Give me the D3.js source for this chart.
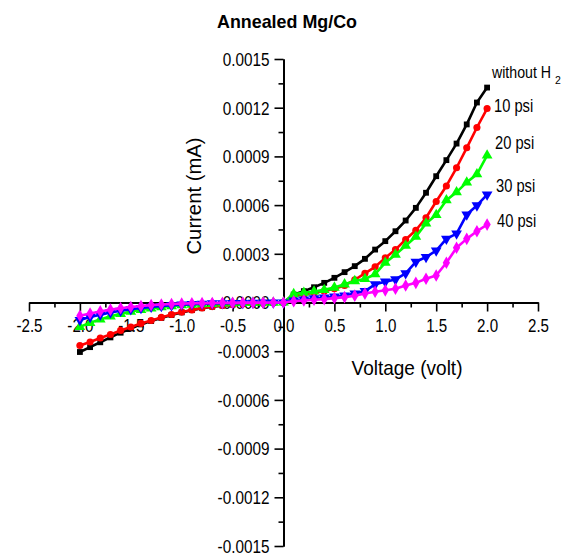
<!DOCTYPE html>
<html>
<head>
<meta charset="utf-8">
<script src="https://cdn.jsdelivr.net/npm/d3@7/dist/d3.min.js"></script>
<style>
  html, body { margin: 0; padding: 0; background: #fff; }
  svg { display: block; font-family: "Liberation Sans", Arial, sans-serif; }
</style>
</head>
<body>
<svg id="chart" width="570" height="559"></svg>
<script>
// ---------------- data ----------------
const voltage = [-2.0,-1.9,-1.8,-1.7,-1.6,-1.5,-1.4,-1.3,-1.2,-1.1,-1.0,-0.9,-0.8,-0.7,-0.6,-0.5,-0.4,-0.3,-0.2,-0.1,
                 0.0,0.1,0.2,0.3,0.4,0.5,0.6,0.7,0.8,0.9,1.0,1.1,1.2,1.3,1.4,1.5,1.6,1.7,1.8,1.9,2.0];

const withoutH2 = [-0.000305,-0.000275,-0.000245,-0.000215,-0.000186,-0.00016,-0.000135,-0.000114,-0.000095,-0.000077,-0.000061,-0.000047,-0.000035,-0.000026,-0.000019,-0.000013,-0.000009,-0.000006,-0.000004,-0.000002,
                   0,0.000049,0.00007,0.000094,0.000121,0.000152,0.000187,0.000224,0.000269,0.000326,0.000378,0.000439,0.000505,0.000583,0.000676,0.000778,0.000877,0.000979,0.001097,0.001232,0.001324];

const psi10 = [-0.000265,-0.000243,-0.000219,-0.000197,-0.000172,-0.000151,-0.000129,-0.000111,-0.000092,-0.000074,-0.000059,-0.000046,-0.000034,-0.000025,-0.000018,-0.000012,-0.000009,-0.000006,-0.000004,-0.000002,
               0,0.00004,0.00005,0.00006,0.00007,0.000085,0.000105,0.00014,0.00018,0.00022,0.000275,0.000326,0.000388,0.000445,0.000522,0.000622,0.000718,0.00083,0.000953,0.001078,0.001195];

const psi20 = [-0.00015,-0.000125,-0.000104,-0.000085,-0.00007,-0.000056,-0.000045,-0.000036,-0.000028,-0.000022,-0.000017,-0.000013,-0.00001,-0.000008,-0.000006,-0.000004,-0.000003,-0.000002,-0.000001,-0.0000005,
               0,0.000052,0.00006,0.000068,0.000078,0.000092,0.000112,0.000132,0.000145,0.000175,0.000245,0.000295,0.00035,0.000405,0.000487,0.00054,0.00063,0.00068,0.00074,0.00079,0.000906];

const psi30 = [-0.000108,-0.00009,-0.000075,-0.000062,-0.000051,-0.000042,-0.000034,-0.000027,-0.000022,-0.000017,-0.000013,-0.00001,-0.000008,-0.000006,-0.000005,-0.000004,-0.000003,-0.000002,-0.000001,-0.0000005,
               0,0.000012,0.000018,0.000025,0.00003,0.000036,0.000043,0.000055,0.00007,0.000112,0.000128,0.000142,0.00018,0.00025,0.00028,0.00032,0.000392,0.000424,0.000542,0.000598,0.000665];

const psi40 = [-0.000082,-0.000068,-0.000055,-0.000044,-0.000035,-0.000028,-0.000022,-0.000016,-0.000012,-0.000009,-0.000007,-0.000005,-0.000004,-0.000003,-0.000002,-0.000002,-0.000001,-0.000001,-0.0000005,-0.0000002,
               0,0.000008,0.000013,0.000017,0.000021,0.000027,0.000033,0.000042,0.000055,0.000066,0.000075,0.000085,0.000105,0.000121,0.000146,0.000166,0.000245,0.000337,0.000392,0.000439,0.00048];

const seriesNames = ["without H", "10 psi", "20 psi", "30 psi", "40 psi"];
const seriesSubscripts = ["2", "", "", "", ""];
const seriesValues = [withoutH2, psi10, psi20, psi30, psi40];
const seriesColors = ["#000000", "#ff0000", "#00ff00", "#0000ff", "#ff00ff"];

const xTickValues = [-2.5,-2.0,-1.5,-1.0,-0.5,0.0,0.5,1.0,1.5,2.0,2.5];
const xTickLabels = ["-2.5","-2.0","-1.5","-1.0","-0.5","0.0","0.5","1.0","1.5","2.0","2.5"];
const yTickValues = [-0.0015,-0.0012,-0.0009,-0.0006,-0.0003,0,0.0003,0.0006,0.0009,0.0012,0.0015];
const yTickLabels = ["-0.0015","-0.0012","-0.0009","-0.0006","-0.0003","0.0000","0.0003","0.0006","0.0009","0.0012","0.0015"];

const titleText = "Annealed Mg/Co";
const xTitle = "Voltage (volt)";
const yTitle = "Current (mA)";

// ---------------- drawing ----------------
const svg = d3.select("#chart");
const x = d3.scaleLinear().domain([-2.5, 2.5]).range([29, 538]);
const y = d3.scaleLinear().domain([-0.0015, 0.0015]).range([546, 59]);

function squeeze(sel, f) {
  sel.each(function() {
    const len = this.getComputedTextLength();
    d3.select(this).attr("textLength", len * f).attr("lengthAdjust", "spacingAndGlyphs");
  });
}

// x axis
const xMinor = d3.range(-2.5, 2.5001, 0.25).filter(v => Math.abs(Math.round(v*2) - v*2) > 1e-6);
const gxMinor = svg.append("g").attr("transform", `translate(0,${y(0)})`)
  .call(d3.axisBottom(x).tickValues(xMinor).tickSize(5).tickSizeOuter(0).tickFormat(""));
const gx = svg.append("g").attr("transform", `translate(0,${y(0)})`)
  .call(d3.axisBottom(x).tickValues(xTickValues).tickSize(9).tickSizeOuter(0).tickPadding(8)
        .tickFormat((d, i) => xTickLabels[i]));

// y axis
const yMinor = d3.range(-0.00135, 0.0015, 0.0003);
const gyMinor = svg.append("g").attr("transform", `translate(${x(0)},0)`)
  .call(d3.axisLeft(y).tickValues(yMinor).tickSize(5).tickSizeOuter(0).tickFormat(""));
const gy = svg.append("g").attr("transform", `translate(${x(0)},0)`)
  .call(d3.axisLeft(y).tickValues(yTickValues).tickSize(9).tickSizeOuter(0).tickPadding(5)
        .tickFormat((d, i) => yTickLabels[i]));

[gx, gy, gxMinor, gyMinor].forEach(g => {
  g.select(".domain").attr("stroke", "#000").attr("stroke-width", 2);
  g.selectAll(".tick line").attr("stroke", "#000").attr("stroke-width", 1.6);
  g.selectAll(".tick text").attr("fill", "#000").attr("font-size", 18)
    .attr("font-family", "'Liberation Sans', Arial, sans-serif");
});
gx.selectAll(".tick text").attr("dy", "0.71em");
gy.selectAll(".tick text").attr("dy", "0.35em");
squeeze(gx.selectAll(".tick text"), 0.84);
squeeze(gy.selectAll(".tick text"), 0.85);

// series
const line = d3.line().x((d, i) => x(voltage[i])).y(d => y(d));
const symbols = [d3.symbolSquare, d3.symbolCircle, d3.symbolTriangle, d3.symbolTriangle, d3.symbolDiamond];
const symSizes = [34, 40, 50, 50, 46];
const rotations = [0, 0, 0, 180, 0];

seriesValues.forEach((vals, s) => {
  const g = svg.append("g");
  g.append("path").datum(vals).attr("d", line)
    .attr("fill", "none").attr("stroke", seriesColors[s]).attr("stroke-width", 2.6)
    .attr("stroke-linejoin", "round");
  g.selectAll("path.m").data(vals).join("path").attr("class", "m")
    .attr("d", d3.symbol().type(symbols[s]).size(symSizes[s]))
    .attr("transform", (d, i) => `translate(${x(voltage[i])},${y(d)}) rotate(${rotations[s]})`)
    .attr("fill", seriesColors[s]);
});

// title
svg.append("text").attr("x", 287).attr("y", 28).attr("text-anchor", "middle")
  .attr("font-size", 19).attr("font-weight", "bold").attr("fill", "#000")
  .attr("textLength", 140).attr("lengthAdjust", "spacingAndGlyphs").text(titleText);

// axis titles
svg.append("text").attr("x", 407).attr("y", 375).attr("text-anchor", "middle")
  .attr("font-size", 21).attr("fill", "#000")
  .attr("textLength", 111).attr("lengthAdjust", "spacingAndGlyphs").text(xTitle);
svg.append("text").attr("transform", "translate(201,196) rotate(-90)").attr("text-anchor", "middle")
  .attr("font-size", 19.5).attr("fill", "#000")
  .attr("textLength", 117).attr("lengthAdjust", "spacingAndGlyphs").text(yTitle);

// series labels
const labelX = [492, 494, 495, 496, 497];
const labelY = [78, 112, 149, 192, 227];
seriesNames.forEach((name, s) => {
  const t = svg.append("text").attr("x", labelX[s]).attr("y", labelY[s])
    .attr("font-size", s === 0 ? 16.5 : 17.5).attr("fill", "#000");
  const main = t.append("tspan").text(name);
  if (seriesSubscripts[s]) {
    main.attr("textLength", 59).attr("lengthAdjust", "spacingAndGlyphs");
    t.append("tspan").attr("dx", 4).attr("dy", 6).attr("font-size", 10.5).text(seriesSubscripts[s]);
  } else {
    squeeze(main, 0.84);
  }
});
</script>
</body>
</html>
